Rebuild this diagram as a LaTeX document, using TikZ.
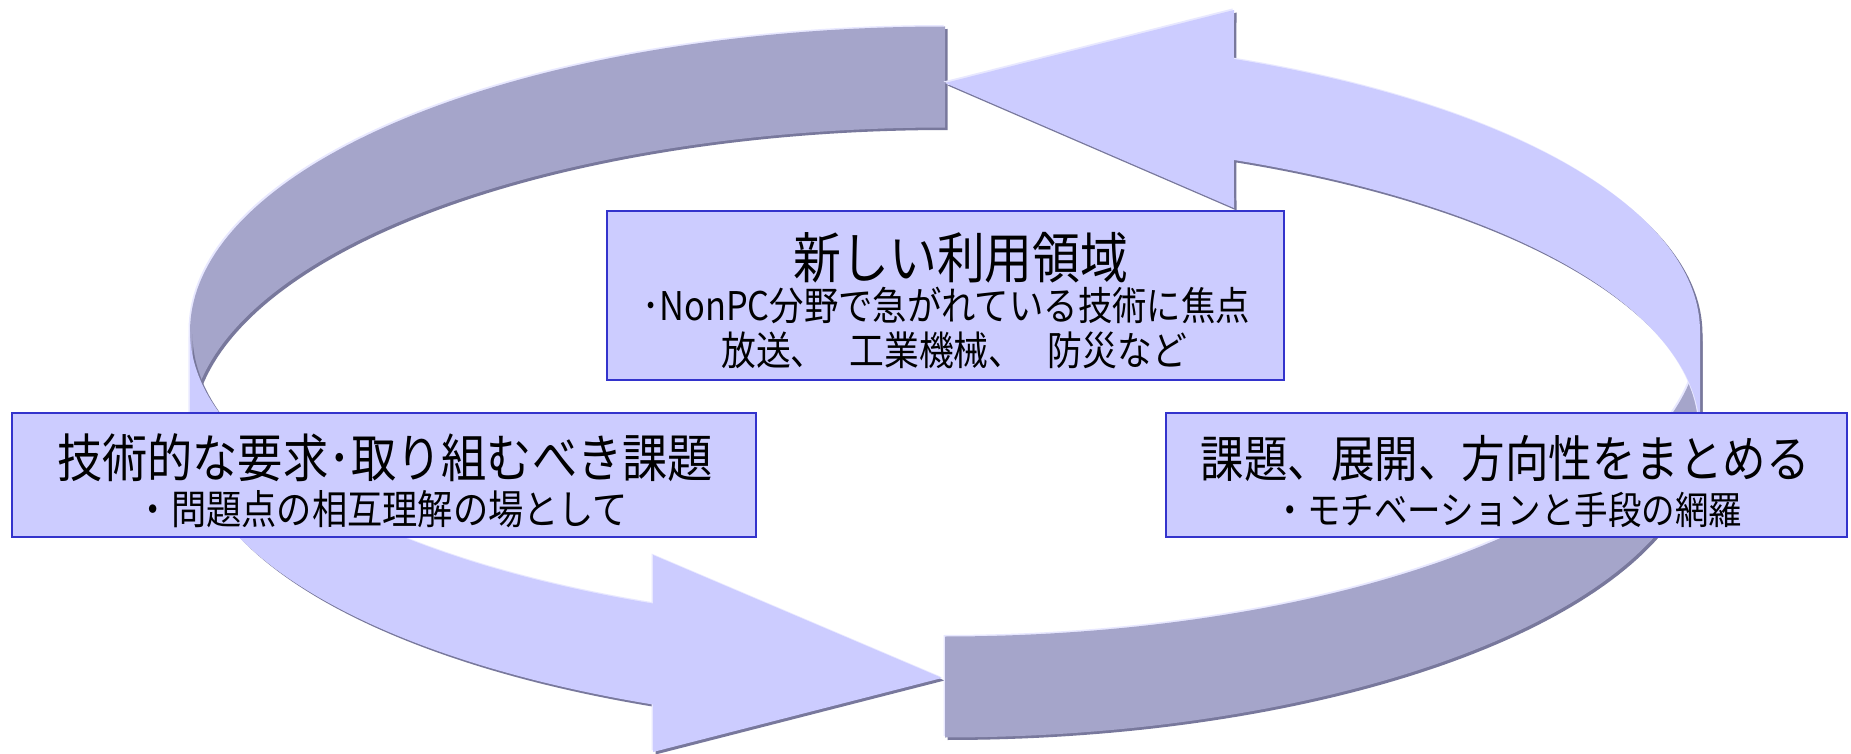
\documentclass[tikz,border=0pt]{standalone}
\usepackage{fontspec}
\newfontfamily\jp[FakeStretch=0.87]{Noto Sans CJK JP}
\definecolor{bandDark}{RGB}{165,165,202}
\definecolor{bandLight}{RGB}{204,204,255}
\definecolor{bandShadow}{RGB}{120,120,156}
\definecolor{bandHi}{RGB}{232,232,255}
\definecolor{boxLine}{RGB}{51,51,204}
\def\ArcBackLeft{plot[variable=\t,domain=90:180,samples=80] ({945+755*cos(\t)},{331.5-305*sin(\t)}) -- (190,432.5) -- plot[variable=\t,domain=180:90,samples=80] ({945+755*cos(\t)},{432.5-305*sin(\t)}) -- cycle}
\def\ArcFrontLeft{plot[variable=\t,domain=180:112.75,samples=80] ({945+755*cos(\t)},{331.5+295*sin(\t)}) -- (653,555) -- (942,678) -- (653,752) -- plot[variable=\t,domain=112.75:180,samples=80] ({945+755*cos(\t)},{432.5+295*sin(\t)}) -- cycle}
\def\ArcFrontRight{plot[variable=\t,domain=90:0,samples=80] ({945+755*cos(\t)},{331.5+305*sin(\t)}) -- (1700,432.5) -- plot[variable=\t,domain=0:90,samples=80] ({945+755*cos(\t)},{432.5+305*sin(\t)}) -- cycle}
\def\ArcBackRight{plot[variable=\t,domain=0:67.5,samples=80] ({945+755*cos(\t)},{331.5-295*sin(\t)}) -- (1234,10) -- (945,83) -- (1234,208) -- plot[variable=\t,domain=67.5:0,samples=80] ({945+755*cos(\t)},{432.5-295*sin(\t)}) -- cycle}
\newcommand\bandpiece[2]{%
  \fill[bandShadow, shift={(2.5,2.5)}] #1;
  \fill[bandHi, shift={(-1.5,-1.5)}] #1;
  \fill[#2] #1;}
\tikzset{
  infobox/.style={draw=boxLine, fill=bandLight, line width=2pt, inner sep=0pt},
  ttl/.style={font=\jp\fontsize{#1}{#1}\selectfont, anchor=base, inner sep=0pt},
  subt/.style={font=\jp\fontsize{#1}{#1}\selectfont, anchor=base, inner sep=0pt}
}
\begin{document}
\begin{tikzpicture}[x=1pt,y=-1pt]
\useasboundingbox (0,0) rectangle (1851,754);
\fill[white] (0,0) rectangle (1851,754);
\bandpiece{\ArcBackLeft}{bandDark}
\bandpiece{\ArcFrontLeft}{bandLight}
\bandpiece{\ArcFrontRight}{bandDark}
\bandpiece{\ArcBackRight}{bandLight}
\node[infobox, minimum width=677pt, minimum height=169pt] (topbox) at (945.5,295.5) {};
\node[infobox, minimum width=744pt, minimum height=124pt] (leftbox) at (384,475) {};
\node[infobox, minimum width=681pt, minimum height=124pt] (rightbox) at (1506.5,475) {};
\node[ttl=55] (toptitle) at (961,278) {新しい利用領域};
\node[subt=39.5] (topline1) at (946,320) {･NonPC分野で急がれている技術に焦点};
\node[subt=40] (topline2) at (954,365) {放送、\hspace{0.6em}工業機械、\hspace{0.6em}防災など};
\node[ttl=52] (lefttitle) at (385,477) {技術的な要求･取り組むべき課題};
\node[subt=40.5] (leftsub) at (382,524) {・問題点の相互理解の場として};
\node[ttl=50] (righttitle) at (1505,477) {課題、展開、方向性をまとめる};
\node[subt=38.5] (rightsub) at (1508,524) {・モチベーションと手段の網羅};
\end{tikzpicture}
\end{document}
